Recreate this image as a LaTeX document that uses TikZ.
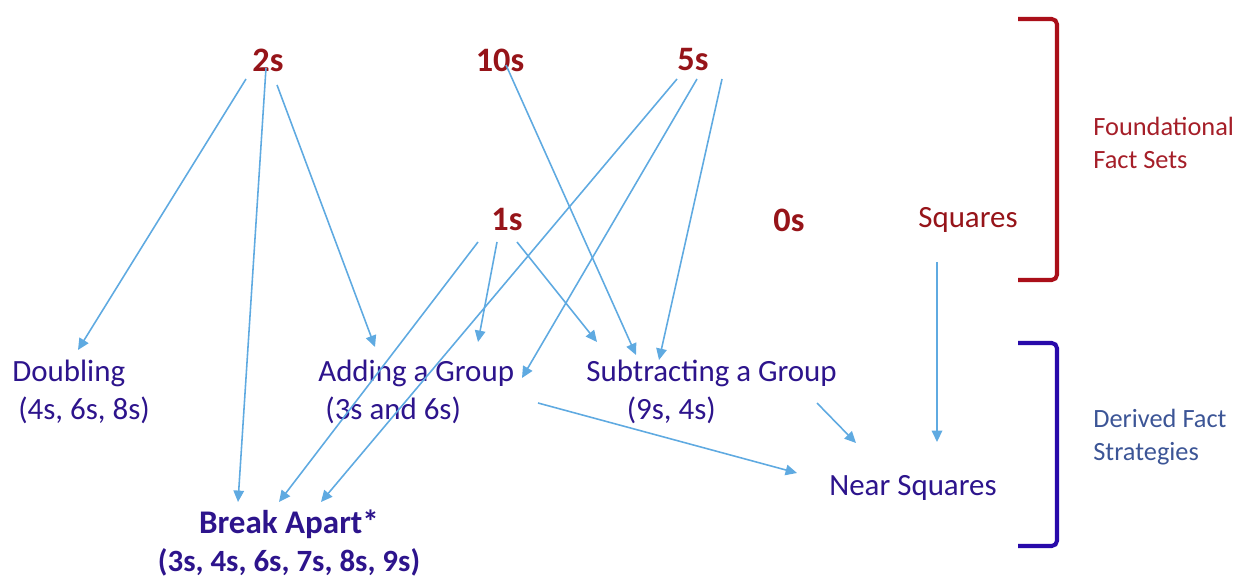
\documentclass[tikz,border=0pt]{standalone}
\usepackage{fontspec}
\setmainfont{Carlito}
\usepackage{tikz}
\usetikzlibrary{arrows.meta,calc}
\usepackage{xcolor}
\definecolor{cFact}{RGB}{150,20,25}
\definecolor{cFound}{RGB}{165,30,40}
\definecolor{cStrat}{RGB}{45,20,140}
\definecolor{cDerived}{RGB}{60,85,150}
\definecolor{cArrow}{RGB}{95,170,225}
\definecolor{cRedBr}{RGB}{170,15,25}
\definecolor{cBlueBr}{RGB}{40,10,170}
\tikzset{
  basebox/.style={inner sep=0pt,align=left},
  factnode/.style={basebox,text=cFact,font=\bfseries\fontsize{19.5}{23}\selectfont},
  sqnode/.style={basebox,text=cFact,font=\fontsize{17.6}{22}\selectfont},
  stratnode/.style={basebox,text=cStrat,font=\fontsize{17.6}{22}\selectfont},
  sidenode/.style={basebox,anchor=west,font=\fontsize{15}{18.7}\selectfont},
  arr/.style={-{Triangle[length=6.5pt,width=6pt]},line width=0.9pt,color=cArrow},
  bracket/.style={line width=2.3pt,rounded corners=3pt}
}
\begin{document}
\begin{tikzpicture}[x=0.02cm,y=-0.02cm]
  \useasboundingbox (0,0) rectangle (1243,580);

  % Foundational fact sets
  \node[factnode] (two)  at (268,60)  {2s};
  \node[factnode] (ten)  at (500,60)  {10s};
  \node[factnode] (five) at (693,60)  {5s};
  \node[factnode] (one)  at (507,220) {1s};
  \node[factnode] (zero) at (789,220) {0s};
  \node[sqnode]   (sq)   at (968,220) {Squares};

  % Derived fact strategies
  \node[stratnode,anchor=west] (dbl) at (12,392)  {Doubling\\\hspace{3.4pt}(4s, 6s, 8s)};
  \node[stratnode,anchor=west] (add) at (318,392) {Adding a Group\\\hspace{4pt}(3s and 6s)};
  \node[stratnode,anchor=west] (sub) at (586,392) {Subtracting a Group\\\hspace{23pt}(9s, 4s)};
  \node[stratnode] (near) at (913,488) {Near Squares};
  \node[stratnode,align=center,font=\bfseries\fontsize{17.6}{22}\selectfont] (brk) at (289,543)
       {{\fontsize{18.8}{22}\selectfont Break Apart*}\\(3s, 4s, 6s, 7s, 8s, 9s)};

  % Side labels
  \node[sidenode,text=cFound]   (found)   at (1093,143) {Foundational\\Fact Sets};
  \node[sidenode,text=cDerived] (derived) at (1093,437) {Derived Fact\\Strategies};

  % Brackets
  \draw[bracket,cRedBr]  (1018,19)  -- (1057,19)  -- (1057,280) -- (1018,280);
  \draw[bracket,cBlueBr] (1018,343) -- (1057,343) -- (1057,546) -- (1018,546);

  % Arrows from 2s
  \draw[arr] ($(two)+(-22,19)$) -- ($(dbl.west)+(66,-42)$);
  \draw[arr] ($(two)+(-2,8)$)   -- ($(brk)+(-51,-41)$);
  \draw[arr] ($(two)+(9,25)$)   -- ($(add.west)+(57,-45)$);

  % Arrow from 10s
  \draw[arr] ($(ten)+(6,5)$) -- ($(sub.west)+(50,-37)$);

  % Arrows from 1s
  \draw[arr] ($(one)+(-29,22)$) -- ($(brk)+(-10,-41)$);
  \draw[arr] ($(one)+(-10,22)$) -- ($(add.west)+(160,-50)$);
  \draw[arr] ($(one)+(10,22)$)  -- ($(sub.west)+(11,-50)$);

  % Arrows from 5s
  \draw[arr] ($(five)+(-16,19)$) -- ($(brk)+(32,-41)$);
  \draw[arr] ($(five)+(4,19)$)   -- ($(add.west)+(204,-14)$);
  \draw[arr] ($(five)+(29,19)$)  -- ($(sub.west)+(73,-32)$);

  % Arrows into Near Squares
  \draw[arr] ($(sq)+(-31,42)$)      -- ($(near)+(24,-46)$);
  \draw[arr] ($(sub.west)+(231,11)$) -- ($(near)+(-57,-45)$);
  \draw[arr] ($(add.west)+(220,11)$) -- ($(near)+(-116,-15)$);

\end{tikzpicture}
\end{document}
